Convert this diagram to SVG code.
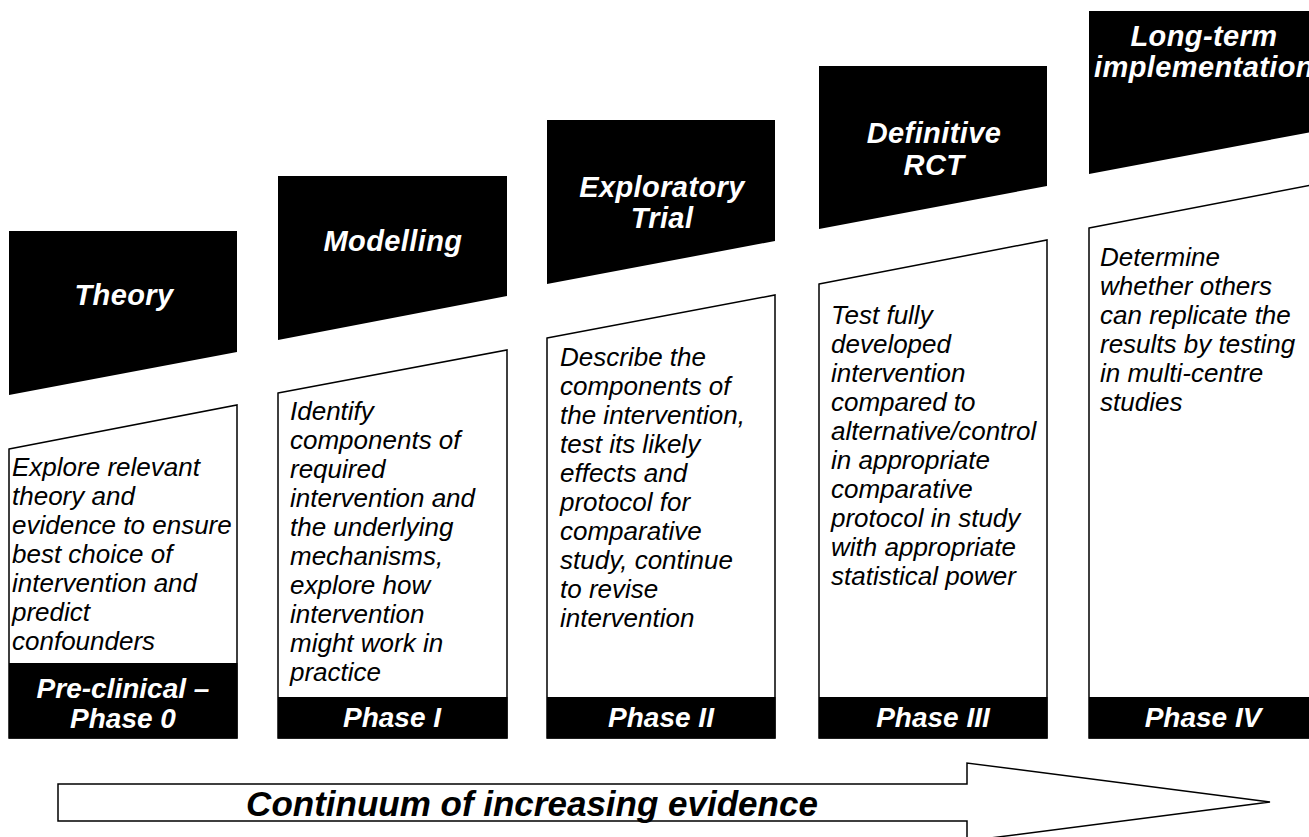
<svg xmlns="http://www.w3.org/2000/svg" width="1309" height="837" viewBox="0 0 1309 837">
<style>
.hdr{fill:#000}
.box{fill:#fff;stroke:#000;stroke-width:1.5}
.band{fill:#000}
.ht{font-family:"Liberation Sans",Arial,sans-serif;font-weight:bold;font-style:italic;font-size:29px;fill:#fff;text-anchor:middle;letter-spacing:0.4px}
.bt{font-family:"Liberation Sans",Arial,sans-serif;font-style:italic;font-size:26px;fill:#000}
.pt{font-family:"Liberation Sans",Arial,sans-serif;font-weight:bold;font-style:italic;font-size:28px;fill:#fff;text-anchor:middle}
.at{font-family:"Liberation Sans",Arial,sans-serif;font-weight:bold;font-style:italic;font-size:35px;fill:#000;text-anchor:middle}
</style>
<rect width="1309" height="837" fill="#fff"/>

<g id="col-theory">
<polygon class="hdr" points="9,231 237,231 237,352 9,395"/>
<text class="ht" x="124" y="305">Theory</text>
<polygon class="box" points="9,449 237,405 237,738 9,738"/>
<rect class="band" x="9" y="663" width="228.5" height="75.5"/>
<text class="bt"><tspan x="12" y="476">Explore relevant</tspan><tspan x="12" y="505">theory and</tspan><tspan x="12" y="534">evidence to ensure</tspan><tspan x="12" y="563">best choice of</tspan><tspan x="12" y="592">intervention and</tspan><tspan x="12" y="621">predict</tspan><tspan x="12" y="650">confounders</tspan></text>
<text class="pt"><tspan x="123" y="698">Pre-clinical –</tspan><tspan x="123" y="728">Phase 0</tspan></text>
</g>

<g id="col-modelling">
<polygon class="hdr" points="278,176 507,176 507,296 278,340"/>
<text class="ht" x="393" y="251">Modelling</text>
<polygon class="box" points="278,393 507,350 507,738 278,738"/>
<rect class="band" x="278" y="697" width="229.5" height="41.5"/>
<text class="bt"><tspan x="290" y="420">Identify</tspan><tspan x="290" y="449">components of</tspan><tspan x="290" y="478">required</tspan><tspan x="290" y="507">intervention and</tspan><tspan x="290" y="536">the underlying</tspan><tspan x="290" y="565">mechanisms,</tspan><tspan x="290" y="594">explore how</tspan><tspan x="290" y="623">intervention</tspan><tspan x="290" y="652">might work in</tspan><tspan x="290" y="681">practice</tspan></text>
<text class="pt" x="392" y="727">Phase I</text>
</g>

<g id="col-exploratory">
<polygon class="hdr" points="547,120 775,120 775,241 547,284"/>
<text class="ht"><tspan x="662" y="197">Exploratory</tspan><tspan x="662" y="228">Trial</tspan></text>
<polygon class="box" points="547,338 775,295 775,738 547,738"/>
<rect class="band" x="547" y="697" width="228.5" height="41.5"/>
<text class="bt"><tspan x="560" y="366">Describe the</tspan><tspan x="560" y="395">components of</tspan><tspan x="560" y="424">the intervention,</tspan><tspan x="560" y="453">test its likely</tspan><tspan x="560" y="482">effects and</tspan><tspan x="560" y="511">protocol for</tspan><tspan x="560" y="540">comparative</tspan><tspan x="560" y="569">study, continue</tspan><tspan x="560" y="598">to revise</tspan><tspan x="560" y="627">intervention</tspan></text>
<text class="pt" x="661" y="727">Phase II</text>
</g>

<g id="col-rct">
<polygon class="hdr" points="819,66 1047,66 1047,186 819,229"/>
<text class="ht"><tspan x="934" y="143">Definitive</tspan><tspan x="934" y="175">RCT</tspan></text>
<polygon class="box" points="819,284 1047,240 1047,738 819,738"/>
<rect class="band" x="819" y="697" width="228.5" height="41.5"/>
<text class="bt"><tspan x="831" y="324">Test fully</tspan><tspan x="831" y="353">developed</tspan><tspan x="831" y="382">intervention</tspan><tspan x="831" y="411">compared to</tspan><tspan x="831" y="440">alternative/control</tspan><tspan x="831" y="469">in appropriate</tspan><tspan x="831" y="498">comparative</tspan><tspan x="831" y="527">protocol in study</tspan><tspan x="831" y="556">with appropriate</tspan><tspan x="831" y="585">statistical power</tspan></text>
<text class="pt" x="933" y="727">Phase III</text>
</g>

<g id="col-implementation">
<polygon class="hdr" points="1089,11 1317,11 1317,131 1089,174"/>
<text class="ht"><tspan x="1204" y="46">Long-term</tspan><tspan x="1204" y="77">implementation</tspan></text>
<polygon class="box" points="1089,228 1317,184 1317,738 1089,738"/>
<rect class="band" x="1089" y="697" width="228.5" height="41.5"/>
<text class="bt"><tspan x="1100" y="266">Determine</tspan><tspan x="1100" y="295">whether others</tspan><tspan x="1100" y="324">can replicate the</tspan><tspan x="1100" y="353">results by testing</tspan><tspan x="1100" y="382">in multi-centre</tspan><tspan x="1100" y="411">studies</tspan></text>
<text class="pt" x="1203" y="727">Phase IV</text>
</g>

<g id="connectors">
<polygon points="58,784 967,784 967,763 1270,802 967,841 967,821 58,821" fill="#fff" stroke="#000" stroke-width="1.5"/>
<text class="at" x="532" y="816">Continuum of increasing evidence</text>
</g>
</svg>
